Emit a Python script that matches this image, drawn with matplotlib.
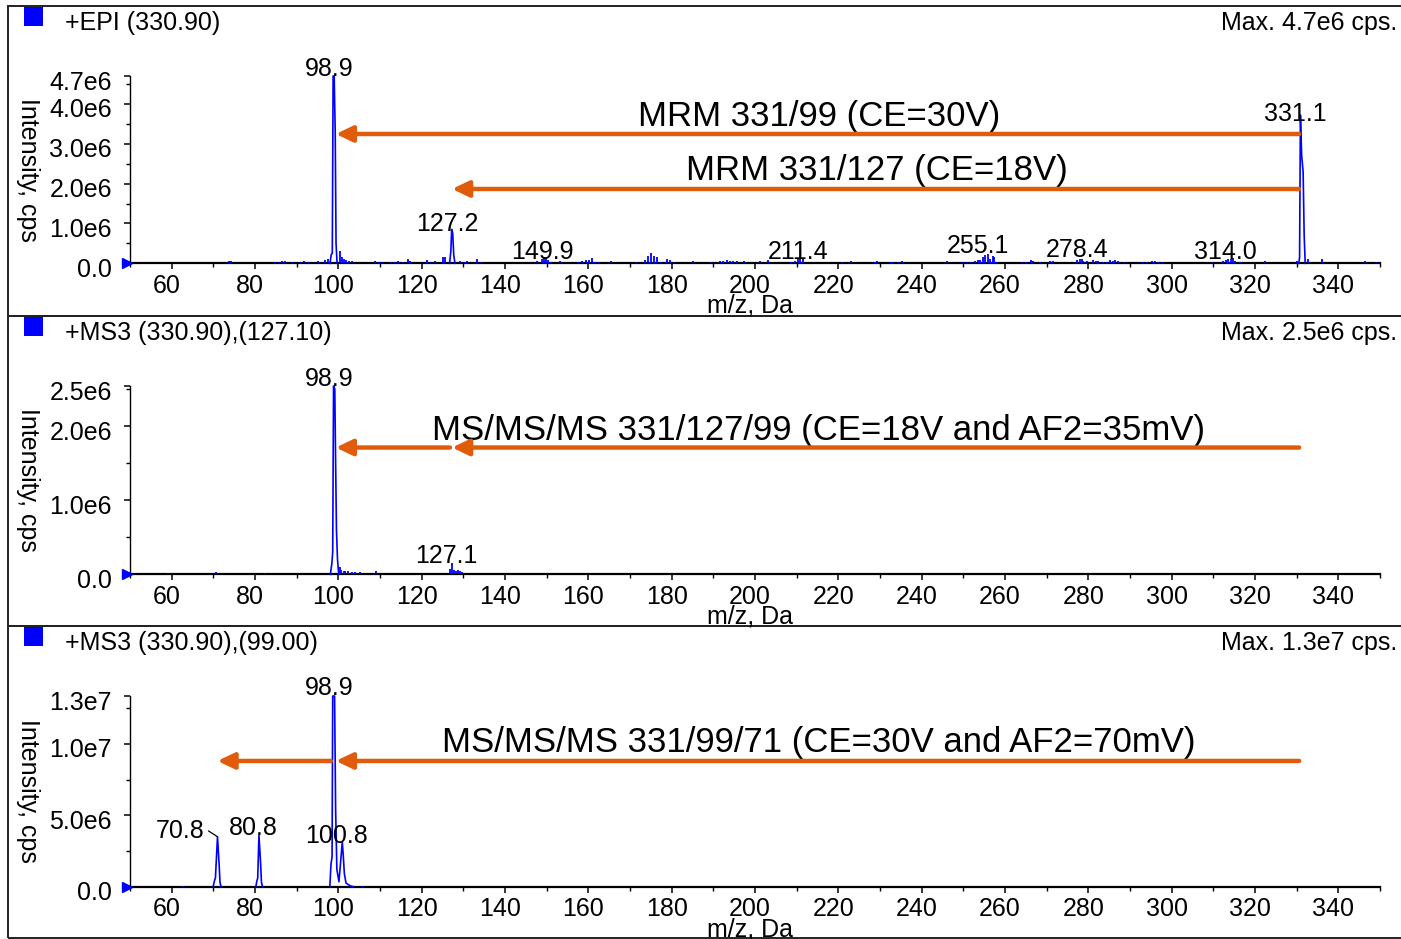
import matplotlib
matplotlib.use("Agg")
import matplotlib.pyplot as plt
from matplotlib.patches import Rectangle
from matplotlib.ticker import MultipleLocator
from matplotlib.transforms import ScaledTranslation

plt.rcParams['font.family'] = ['Liberation Sans', 'DejaVu Sans']

# ---- data (intensities in units of 1e6 cps) ----
headers = ['+EPI (330.90)', '+MS3 (330.90),(127.10)', '+MS3 (330.90),(99.00)']
max_texts = ['Max. 4.7e6 cps.', 'Max. 2.5e6 cps.', 'Max. 1.3e7 cps.']
y_max = [4.70, 2.54, 13.36]
y_ticks = [[0, 1, 2, 3, 4, 4.7], [0, 1, 2, 2.54], [0, 5, 10, 13.36]]
y_ticklabels = [['0.0', '1.0e6', '2.0e6', '3.0e6', '4.0e6', '4.7e6'],
                ['0.0', '1.0e6', '2.0e6', '2.5e6'],
                ['0.0', '5.0e6', '1.0e7', '1.3e7']]
y_minor = [0.5, 0.5, 2.5]
x_ticks = list(range(60, 341, 20))

# peak profiles (m/z, intensity)
epi_p1_mz = [98.0, 98.3, 98.55, 98.75, 99.0, 99.25, 99.45, 99.7]
epi_p1_int = [0, 0.22, 0.25, 4.7, 4.7, 3.3, 0.5, 0]
epi_p2_mz = [126.7, 127.0, 127.2, 127.45, 127.7, 128.0]
epi_p2_int = [0, 0.3, 0.85, 0.75, 0.2, 0]
epi_p3_mz = [330.5, 330.7, 330.9, 331.2, 331.55, 331.8, 332.05]
epi_p3_int = [0, 0.15, 3.72, 2.7, 2.3, 0.7, 0]

ms3a_p1_mz = [98.1, 98.45, 98.65, 98.85, 99.15, 99.35, 99.55, 99.8, 100.1]
ms3a_p1_int = [0, 0.15, 0.3, 2.54, 2.5, 1.5, 0.6, 0.2, 0]

ms3b_p1_mz = [69.95, 70.3, 70.5, 71.0, 71.4, 71.6, 71.85]
ms3b_p1_int = [0, 0.45, 0.6, 3.5, 1.5, 0.3, 0]
ms3b_p2_mz = [80.2, 80.45, 80.65, 80.95, 81.35, 81.55, 81.8]
ms3b_p2_int = [0, 0.4, 0.6, 3.6, 1.6, 0.3, 0]
ms3b_p3_mz = [97.95, 98.25, 98.5, 98.65, 99.1, 99.35, 99.65, 100.15, 100.65,
              100.95, 101.2, 101.45, 101.85, 102.8, 103.6]
ms3b_p3_int = [0, 1.6, 2.1, 13.36, 13.36, 5.4, 1.2, 0.35, 2.1, 3.15, 2.1, 0.9,
               0.25, 0.07, 0]

# small centroid peaks / noise (m/z, intensity)
epi_noise_mz = [68.6, 69.5, 71.1, 73.8, 74.3, 80.7, 84.9, 85.8, 86.5, 87.2, 88.9,
                91.0, 91.8, 92.7, 95.0, 96.8, 97.4, 100.4, 100.9, 101.4, 101.9,
                102.5, 103.2, 104.0, 105.5, 107.0, 108.9, 109.4, 110.8, 111.8,
                112.6, 113.5, 114.3, 115.5, 116.7, 117.2, 119.0, 121.3, 122.0,
                123.2, 125.0, 125.7, 129.2, 130.3, 130.9, 133.3, 134.2, 136.5,
                139.0, 141.0, 143.5, 145.5, 147.7, 148.9, 149.4, 149.8, 150.3,
                151.0, 153.2, 154.5, 156.0, 157.5, 158.5, 159.5, 160.2, 160.9,
                161.5, 162.5, 163.5, 165.5, 167.0, 168.5, 170.0, 171.5, 173.6,
                174.3, 175.1, 175.8, 176.5, 177.2, 178.9, 179.6, 180.5, 182.0,
                183.5, 185.1, 186.5, 188.0, 189.5, 191.6, 192.4, 193.3, 194.0,
                194.8, 195.7, 197.4, 199.0, 200.0, 201.2, 203.2, 204.5, 206.0,
                207.5, 208.7, 209.6, 210.3, 210.9, 211.5, 213.0, 215.0, 217.0,
                219.0, 220.9, 223.1, 225.0, 227.0, 228.7, 229.3, 231.0, 232.5,
                233.2, 234.5, 235.3, 236.5, 238.5, 240.5, 242.0, 244.0, 246.1,
                248.0, 249.7, 250.6, 251.6, 252.8, 253.5, 254.0, 254.6, 255.2,
                256.0, 256.5, 257.0, 257.4, 258.0, 259.5, 262.0, 264.0, 265.0,
                266.3, 266.8, 268.5, 269.5, 270.8, 271.5, 272.5, 274.0, 276.0,
                277.3, 277.9, 278.4, 278.8, 279.6, 281.2, 281.8, 282.4, 283.5,
                284.5, 285.2, 285.9, 286.5, 287.2, 288.5, 290.0, 291.5, 292.9,
                294.0, 295.2, 296.0, 296.8, 297.7, 299.0, 300.5, 302.5, 304.5,
                306.5, 308.0, 309.7, 311.0, 312.4, 313.0, 313.6, 314.2, 314.7,
                315.2, 316.5, 318.0, 320.0, 322.4, 324.5, 327.0, 329.0, 330.1,
                332.7, 334.0, 336.1, 338.0, 341.0, 344.0, 346.4, 349.0]
epi_noise_int = [0.02, 0.02, 0.02, 0.05, 0.07, 0.02, 0.03, 0.03, 0.05, 0.06, 0.04,
                 0.03, 0.05, 0.04, 0.05, 0.08, 0.12, 0.32, 0.15, 0.12, 0.08,
                 0.06, 0.05, 0.02, 0.02, 0.02, 0.06, 0.04, 0.03, 0.02,
                 0.04, 0.03, 0.06, 0.03, 0.10, 0.05, 0.02, 0.08, 0.03,
                 0.05, 0.17, 0.15, 0.06, 0.03, 0.05, 0.10, 0.03, 0.02,
                 0.02, 0.02, 0.02, 0.02, 0.05, 0.10, 0.15, 0.15, 0.08,
                 0.03, 0.06, 0.02, 0.02, 0.04, 0.05, 0.08, 0.08, 0.13,
                 0.04, 0.03, 0.02, 0.05, 0.02, 0.02, 0.02, 0.03, 0.08,
                 0.18, 0.27, 0.18, 0.15, 0.03, 0.10, 0.08, 0.03, 0.02,
                 0.02, 0.06, 0.02, 0.02, 0.03, 0.07, 0.07, 0.08, 0.07,
                 0.06, 0.07, 0.05, 0.02, 0.02, 0.06, 0.08, 0.02, 0.02,
                 0.02, 0.03, 0.06, 0.10, 0.13, 0.12, 0.02, 0.02, 0.02,
                 0.02, 0.04, 0.05, 0.02, 0.02, 0.04, 0.05, 0.02, 0.03,
                 0.04, 0.03, 0.05, 0.02, 0.02, 0.02, 0.02, 0.02, 0.06,
                 0.02, 0.03, 0.03, 0.04, 0.06, 0.08, 0.09, 0.15, 0.20,
                 0.23, 0.12, 0.18, 0.17, 0.04, 0.02, 0.02, 0.04, 0.03,
                 0.08, 0.06, 0.03, 0.02, 0.06, 0.05, 0.02, 0.02, 0.02,
                 0.08, 0.12, 0.12, 0.07, 0.05, 0.08, 0.06, 0.07, 0.03,
                 0.04, 0.08, 0.07, 0.08, 0.06, 0.03, 0.02, 0.02, 0.04,
                 0.03, 0.05, 0.06, 0.04, 0.04, 0.02, 0.02, 0.02, 0.02,
                 0.02, 0.02, 0.03, 0.02, 0.06, 0.08, 0.12, 0.12, 0.13,
                 0.06, 0.03, 0.02, 0.02, 0.05, 0.02, 0.02, 0.02, 0.05,
                 0.10, 0.02, 0.10, 0.02, 0.02, 0.02, 0.05, 0.04]
ms3a_noise_mz = [59.2, 70.7, 82.4, 100.3, 100.6, 101.3, 101.7, 102.4, 103.2, 104.0,
                 105.2, 109.0, 126.9, 127.3, 127.7, 128.2, 128.7, 129.2, 129.6]
ms3a_noise_int = [0.015, 0.035, 0.015, 0.10, 0.06, 0.05, 0.04, 0.04, 0.03, 0.03,
                  0.025, 0.05, 0.07, 0.155, 0.06, 0.05, 0.06, 0.04, 0.03]
ms3b_noise_mz = [62.8, 105.6]
ms3b_noise_int = [0.03, 0.04]

# peak labels: (text, m/z, intensity)
epi_labels = [('98.9', 99.0, 4.69), ('127.2', 127.3, 0.82), ('149.9', 150.1, 0.12),
              ('211.4', 211.5, 0.12), ('255.1', 254.8, 0.25), ('278.4', 278.5, 0.15),
              ('314.0', 314.0, 0.12), ('331.1', 330.8, 3.56)]
ms3a_labels = [('98.9', 99.0, 2.54), ('127.1', 127.1, 0.146)]
ms3b_labels = [('98.9', 99.0, 13.45), ('80.8', 80.8, 3.6), ('100.8', 100.7, 3.03)]

# annotations: big notes (text, m/z centre, intensity baseline) and arrows (tail, tip, intensity)
epi_notes = [('MRM 331/99 (CE=30V)', 215.4, 3.445), ('MRM 331/127 (CE=18V)', 229.3, 2.09)]
ms3a_notes = [('MS/MS/MS 331/127/99 (CE=18V and AF2=35mV)', 215.3, 1.81)]
ms3b_notes = [('MS/MS/MS 331/99/71 (CE=30V and AF2=70mV)', 215.3, 9.46)]
epi_arrows = [(330.6, 99.4, 3.245), (330.6, 127.3, 1.865)]
ms3a_arrows = [(330.6, 127.3, 1.71), (126.8, 99.4, 1.71)]
ms3b_arrows = [(330.6, 99.4, 8.81), (98.2, 71.0, 8.81)]

# ---- layout ----
W, H, DPI = 1401, 939, 100
SMALL, BIG = 18, 25
ORANGE = '#E05C0A'
BLUE = '#0000FF'

fig = plt.figure(figsize=(W / DPI, H / DPI), dpi=DPI)


def fx(px):
    return px / W


def fy(py):
    return 1 - py / H


panel_top = [6, 316, 626]
panel_bot = [316, 626, 938]
ax_top = [76, 386, 696]
ax_bot = [263.3, 574.3, 886.7]

profiles = [
    [(epi_p1_mz, epi_p1_int), (epi_p2_mz, epi_p2_int), (epi_p3_mz, epi_p3_int)],
    [(ms3a_p1_mz, ms3a_p1_int)],
    [(ms3b_p1_mz, ms3b_p1_int), (ms3b_p2_mz, ms3b_p2_int), (ms3b_p3_mz, ms3b_p3_int)],
]
noises = [(epi_noise_mz, epi_noise_int), (ms3a_noise_mz, ms3a_noise_int),
          (ms3b_noise_mz, ms3b_noise_int)]
labels = [epi_labels, ms3a_labels, ms3b_labels]
notes = [epi_notes, ms3a_notes, ms3b_notes]
arrows = [epi_arrows, ms3a_arrows, ms3b_arrows]

for i in range(3):
    t, b = panel_top[i], panel_bot[i]
    fig.add_artist(Rectangle((fx(8), fy(b)), (1430 - 8) / W, (b - t) / H,
                             transform=fig.transFigure, fill=False,
                             ec='#222222', lw=1.4))
    fig.add_artist(Rectangle((fx(24), fy(t + 20)), 19 / W, 19 / H,
                             transform=fig.transFigure, color=BLUE, lw=0))
    fig.text(fx(65), fy(t + 17), headers[i], ha='left', va='center', fontsize=SMALL)
    fig.text(fx(1397), fy(t + 17), max_texts[i], ha='right', va='center', fontsize=SMALL)

    ax = fig.add_axes([fx(130), fy(ax_bot[i]), (1380 - 130) / W,
                       (ax_bot[i] - ax_top[i]) / H])
    ax.set_xlim(50, 350)
    ax.set_ylim(0, y_max[i])
    for s in ['top', 'right']:
        ax.spines[s].set_visible(False)
    ax.spines['left'].set_linewidth(1.0)
    ax.spines['bottom'].set_linewidth(1.6)

    for mz, inten in profiles[i]:
        ax.plot(mz, inten, color=BLUE, lw=1.2, clip_on=False, zorder=3)
    nmz, nint = noises[i]
    ax.vlines(nmz, 0, nint, color=BLUE, lw=1.3, zorder=3)

    # start marker
    ax.plot([50], [0], marker='>', ms=7.5, color=BLUE, clip_on=False, zorder=4,
            transform=ax.transData + ScaledTranslation(-3 / DPI, 0, fig.dpi_scale_trans))

    ax.set_xticks(x_ticks)
    ax.xaxis.set_minor_locator(MultipleLocator(10))
    ax.set_yticks(y_ticks[i])
    ax.set_yticklabels(y_ticklabels[i])
    ax.yaxis.set_minor_locator(MultipleLocator(y_minor[i]))
    ax.tick_params(axis='both', which='major', direction='out', length=4, width=1.1,
                   labelsize=SMALL)
    ax.tick_params(axis='both', which='minor', direction='out', length=3, width=1.0)
    ax.tick_params(axis='x', pad=3.5)
    ax.tick_params(axis='y', pad=9)
    for lbl in ax.get_xticklabels():
        lbl.set_transform(lbl.get_transform() +
                          ScaledTranslation(-5 / DPI, 0, fig.dpi_scale_trans))
    for lbl in ax.get_yticklabels():
        lbl.set_transform(lbl.get_transform() +
                          ScaledTranslation(0, -4 / DPI, fig.dpi_scale_trans))

    for txt, x, y in labels[i]:
        ax.annotate(txt, xy=(x, y), xytext=(-5, 0), textcoords='offset pixels',
                    ha='center', va='baseline', fontsize=SMALL, annotation_clip=False)

    for txt, x, y in notes[i]:
        ax.text(x, y, txt, ha='center', va='baseline', fontsize=BIG)

    for tail, tip, y in arrows[i]:
        ax.annotate('', xy=(tip, y), xytext=(tail, y),
                    arrowprops=dict(arrowstyle='-|>,head_length=0.5,head_width=0.24',
                                    lw=3.2, color=ORANGE, shrinkA=0, shrinkB=0,
                                    mutation_scale=20))

    if i == 2:
        ax.annotate('70.8', xy=(71.0, 3.5), xytext=(-13, -1), textcoords='offset pixels',
                    ha='right', va='baseline', fontsize=SMALL,
                    arrowprops=dict(arrowstyle='-', lw=0.9, color='black',
                                    shrinkA=1, shrinkB=0, relpos=(1, 0.6)))

    fig.text(fx(28), fy((ax_top[i] + ax_bot[i]) / 2), 'Intensity, cps', rotation=270,
             ha='center', va='center', fontsize=SMALL)
    fig.text(fx(750), fy(ax_bot[i] + 42.5), 'm/z, Da', ha='center', va='center',
             fontsize=SMALL)

fig.savefig('out.png', dpi=DPI)
